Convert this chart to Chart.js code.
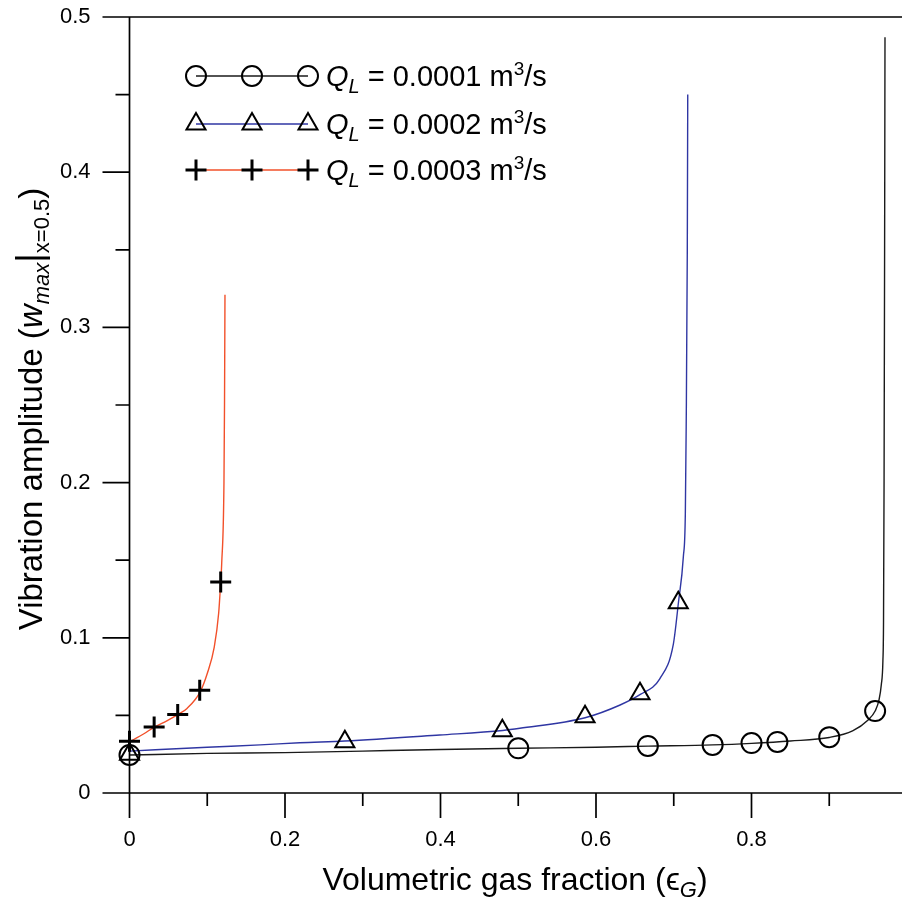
<!DOCTYPE html>
<html>
<head>
<meta charset="utf-8">
<script src="https://cdn.jsdelivr.net/npm/chart.js@4.4.1/dist/chart.umd.min.js"></script>
<style>
  html, body { margin: 0; padding: 0; background: #fff; overflow: hidden; }
  #wrap { width: 920px; height: 898px; }
</style>
</head>
<body>
<div id="wrap"><canvas id="c" width="920" height="898"></canvas></div>
<script>
// ---- Data ----
// Q_L = 0.0001 m3/s (black, circles)
const q1CurveX = [0, 0.1, 0.2, 0.3, 0.4, 0.5, 0.6, 0.667, 0.75, 0.8, 0.85, 0.9, 0.93, 0.95, 0.959, 0.964, 0.967, 0.969, 0.9698, 0.9705, 0.9712, 0.9717];
const q1CurveY = [0.0245, 0.0255, 0.026, 0.027, 0.028, 0.0288, 0.0295, 0.0302, 0.031, 0.032, 0.0335, 0.0358, 0.040, 0.047, 0.0528, 0.06, 0.07, 0.085, 0.11, 0.2, 0.35, 0.487];
const q1MarkX = [0, 0.5, 0.6667, 0.75, 0.8, 0.8333, 0.9, 0.959];
const q1MarkY = [0.0245, 0.0288, 0.0303, 0.031, 0.0322, 0.0329, 0.036, 0.0528];
// Q_L = 0.0002 m3/s (blue, triangles)
const q2CurveX = [0, 0.1, 0.168, 0.219, 0.277, 0.399, 0.48, 0.502, 0.586, 0.631, 0.657, 0.682, 0.6995, 0.706, 0.7123, 0.7149, 0.716, 0.7174, 0.718];
const q2CurveY = [0.027, 0.0295, 0.031, 0.0324, 0.0335, 0.0374, 0.0403, 0.0417, 0.0485, 0.0567, 0.0635, 0.0736, 0.096, 0.1226, 0.152, 0.18, 0.236, 0.3476, 0.45];
const q2MarkX = [0, 0.277, 0.4795, 0.5859, 0.6566, 0.7058];
const q2MarkY = [0.025, 0.033, 0.0401, 0.0492, 0.0639, 0.1226];
// Q_L = 0.0003 m3/s (red, crosses)
const q3CurveX = [0, 0.018, 0.032, 0.048, 0.062, 0.074, 0.0907, 0.1, 0.109, 0.1147, 0.1173, 0.1186, 0.1215, 0.1222, 0.1228];
const q3CurveY = [0.033, 0.038, 0.0425, 0.0465, 0.0505, 0.0545, 0.065, 0.077, 0.094, 0.116, 0.136, 0.148, 0.2, 0.25, 0.321];
const q3MarkX = [0, 0.0317, 0.062, 0.0903, 0.1173];
const q3MarkY = [0.0333, 0.0425, 0.0505, 0.0662, 0.136];

const seriesLabels = ['0.0001', '0.0002', '0.0003'];
const xTickLabels = ['0', '0.2', '0.4', '0.6', '0.8', '1'];
const yTickLabels = ['0', '0.1', '0.2', '0.3', '0.4', '0.5'];

const FONT = "'Liberation Sans', Arial, Helvetica, sans-serif";
const COL = ['#1a1a1a', '#2f36a3', '#f2502a'];

const pts = (xs, ys) => xs.map((x, i) => ({ x: x, y: ys[i] }));

function lineDs(xs, ys, color) {
  return { type: 'line', data: pts(xs, ys), borderColor: color, borderWidth: 1.4,
    pointRadius: 0, fill: false, cubicInterpolationMode: 'monotone', order: 2 };
}
function markDs(xs, ys, style, r, bw) {
  return { type: 'scatter', data: pts(xs, ys), showLine: false, pointStyle: style,
    pointRadius: r, pointHoverRadius: r, pointBorderWidth: bw, borderColor: '#000',
    pointBorderColor: '#000', pointBackgroundColor: 'rgba(0,0,0,0)', backgroundColor: 'rgba(0,0,0,0)',
    clip: false, order: 0 };
}

function richWidth(ctx, segs) {
  let w = 0;
  for (const s of segs) { ctx.font = s.f; w += ctx.measureText(s.t).width; }
  return w;
}
function drawRich(ctx, segs, x, y) {
  let cx = x;
  for (const s of segs) {
    ctx.font = s.f;
    ctx.fillText(s.t, cx, y + (s.dy || 0));
    cx += ctx.measureText(s.t).width;
  }
}

function drawSym(ctx, kind, x, y) {
  ctx.save();
  ctx.strokeStyle = '#000';
  ctx.beginPath();
  if (kind === 0) {
    ctx.lineWidth = 2; ctx.arc(x, y, 10, 0, Math.PI * 2);
  } else if (kind === 1) {
    const r = 11; ctx.lineWidth = 2;
    ctx.moveTo(x, y - r); ctx.lineTo(x + 0.866 * r, y + 0.5 * r); ctx.lineTo(x - 0.866 * r, y + 0.5 * r); ctx.closePath();
  } else {
    const r = 10.5; ctx.lineWidth = 3;
    ctx.moveTo(x - r, y); ctx.lineTo(x + r, y); ctx.moveTo(x, y - r); ctx.lineTo(x, y + r);
  }
  ctx.stroke();
  ctx.restore();
}

const decor = {
  id: 'decor',
  afterDatasetsDraw(chart) {
    const { ctx, chartArea: a, scales: { x, y } } = chart;
    const x0 = x.getPixelForValue(0), y0 = y.getPixelForValue(0);
    ctx.save();
    ctx.strokeStyle = '#000';
    ctx.lineWidth = 1.7;
    ctx.beginPath();
    ctx.moveTo(x0 - 27, a.top); ctx.lineTo(a.right, a.top);      // top frame
    ctx.moveTo(x0, a.top); ctx.lineTo(x0, y0);                     // y axis
    ctx.moveTo(x0 - 27, y0); ctx.lineTo(a.right, y0);              // x axis
    y.ticks.forEach(t => {
      const p = y.getPixelForValue(t.value);
      const major = Math.round(t.value * 20) % 2 === 0;
      ctx.moveTo(x0 - (major ? 27 : 14), p); ctx.lineTo(x0, p);
    });
    x.ticks.forEach(t => {
      const p = x.getPixelForValue(t.value);
      const major = Math.round(t.value * 10) % 2 === 0;
      ctx.moveTo(p, y0); ctx.lineTo(p, y0 + (major ? 25 : 13));
    });
    ctx.stroke();

    // Legend
    const rowsY = [76, 124, 170];
    const symX = [196, 252, 308];
    rowsY.forEach((ry, i) => {
      ctx.save();
      ctx.strokeStyle = COL[i]; ctx.lineWidth = 1.4;
      ctx.beginPath(); ctx.moveTo(symX[0], ry); ctx.lineTo(symX[2], ry); ctx.stroke();
      ctx.restore();
      symX.forEach(sx => drawSym(ctx, i, sx, ry));
      ctx.fillStyle = '#000';
      ctx.textBaseline = 'alphabetic';
      drawRich(ctx, [
        { t: 'Q', f: 'italic 29px ' + FONT },
        { t: 'L', f: 'italic 20px ' + FONT, dy: 7 },
        { t: ' = ' + seriesLabels[i] + ' m', f: '29px ' + FONT },
        { t: '3', f: '19px ' + FONT, dy: -11 },
        { t: '/s', f: '29px ' + FONT }
      ], 326, ry + 10);
    });

    // X title
    const xt = [
      { t: 'Volumetric gas fraction (', f: '32px ' + FONT },
      { t: '\u03F5', f: '32px ' + FONT },
      { t: 'G', f: 'italic 22px ' + FONT, dy: 7 },
      { t: ')', f: '32px ' + FONT }
    ];
    const xw = richWidth(ctx, xt);
    drawRich(ctx, xt, 515 - xw / 2, 890);

    // Y title
    const yt = [
      { t: 'Vibration amplitude (', f: '33px ' + FONT },
      { t: 'w', f: 'italic 33px ' + FONT },
      { t: 'max', f: 'italic 22px ' + FONT, dy: 7 },
      { t: '|', f: '37px ' + FONT },
      { t: 'x=0.5', f: '22px ' + FONT, dy: 7 },
      { t: ')', f: '33px ' + FONT }
    ];
    const yw = richWidth(ctx, yt);
    ctx.save();
    ctx.translate(42, 409);
    ctx.rotate(-Math.PI / 2);
    drawRich(ctx, yt, -yw / 2, 0);
    ctx.restore();
    ctx.restore();
  }
};

new Chart(document.getElementById('c'), {
  data: {
    datasets: [
      lineDs(q1CurveX, q1CurveY, COL[0]),
      lineDs(q2CurveX, q2CurveY, COL[1]),
      lineDs(q3CurveX, q3CurveY, COL[2]),
      markDs(q1MarkX, q1MarkY, 'circle', 10, 2),
      markDs(q2MarkX, q2MarkY, 'triangle', 11, 2),
      markDs(q3MarkX, q3MarkY, 'cross', 10.5, 3)
    ]
  },
  options: {
    responsive: false,
    animation: false,
    devicePixelRatio: 1,
    layout: { autoPadding: false, padding: { left: 0, right: 13, top: 17, bottom: 0 } },
    plugins: { legend: { display: false }, tooltip: { enabled: false } },
    scales: {
      x: {
        type: 'linear', position: 'bottom', min: 0, max: 1,
        grid: { display: false, drawTicks: true, tickLength: 34 },
        border: { display: false },
        ticks: {
          stepSize: 0.1, autoSkip: false, maxRotation: 0, padding: 0,
          color: '#000', font: { family: FONT, size: 22 },
          callback: v => { const k = Math.round(v * 10); return k % 2 === 0 ? xTickLabels[k / 2] : ''; }
        },
        afterFit: s => { s.height = 105; }
      },
      y: {
        type: 'linear', position: 'left', min: 0, max: 0.5,
        grid: { display: false, drawTicks: true, tickLength: 39 },
        border: { display: false },
        ticks: {
          stepSize: 0.05, autoSkip: false, padding: 0,
          color: '#000', font: { family: FONT, size: 22 },
          callback: v => { const k = Math.round(v * 20); return k % 2 === 0 ? yTickLabels[k / 2] : ''; }
        },
        afterFit: s => { s.width = 129.5; }
      }
    }
  },
  plugins: [decor]
});
</script>
</body>
</html>
